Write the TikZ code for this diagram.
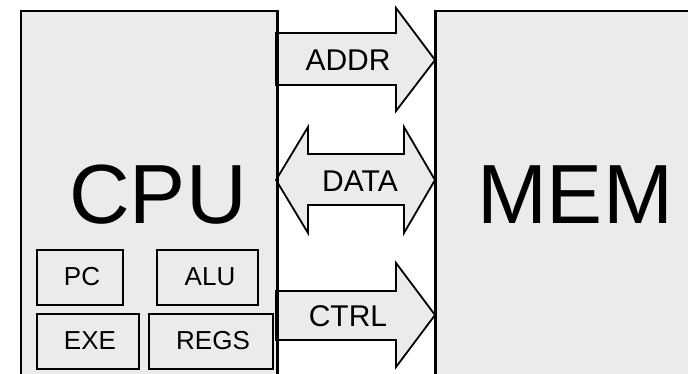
\documentclass[tikz,border=0pt]{standalone}
\usepackage{fontspec}
\setmainfont{Liberation Sans}
\definecolor{boxgray}{HTML}{EBEBEB}
\begin{document}
\begin{tikzpicture}[x=1pt,y=-1pt,
  box/.style={draw=black, line width=1.8pt, fill=boxgray, inner sep=0pt, anchor=north west},
  busarrow/.style={draw=black, line width=1.8pt, fill=boxgray, line join=miter},
  bigtxt/.style={inner sep=0pt, font=\fontsize{84}{84}\selectfont},
  bustxt/.style={inner sep=0pt, font=\fontsize{30}{30}\selectfont},
  regtxt/.style={inner sep=0pt, font=\fontsize{26}{26}\selectfont}]
\useasboundingbox (0,0) rectangle (688,374);
\clip (0,0) rectangle (688,374);
\fill[white] (0,0) rectangle (688,374);
% main blocks
\node[box, minimum width=256pt, minimum height=380pt] (cpu) at (20,10) {};
\node[box, minimum width=280pt, minimum height=380pt] (mem) at (435,10) {};
\node[bigtxt] (cputxt) at (158,195) {CPU};
\node[bigtxt] (memtxt) at (575,195) {MEM};
% CPU internals
\node[box, minimum width=86pt, minimum height=55pt] (pc) at (36,249) {};
\node[box, minimum width=101pt, minimum height=55pt] (alu) at (156,249) {};
\node[box, minimum width=102pt, minimum height=55pt] (exe) at (36,313) {};
\node[box, minimum width=124pt, minimum height=55pt] (regs) at (148,313) {};
\node[regtxt] (pctxt) at (82,277) {PC};
\node[regtxt] (alutxt) at (210,277) {ALU};
\node[regtxt] (exetxt) at (90,341) {EXE};
\node[regtxt] (regstxt) at (213,341) {REGS};
% bus arrows
\draw[busarrow] (276,33) -- (396,33) -- (396,8) -- (435,60) -- (396,111) -- (396,85) -- (276,85) -- cycle;
\draw[busarrow] (276,180) -- (308,127) -- (308,154) -- (404,154) -- (404,127) -- (435,180)
  -- (404,233) -- (404,205) -- (308,205) -- (308,233) -- cycle;
\draw[busarrow] (276,291) -- (396,291) -- (396,263) -- (435,315) -- (396,367) -- (396,340) -- (276,340) -- cycle;
\draw[line width=1.8pt] (cpu.north east) -- (cpu.south east);
\draw[line width=1.8pt] (mem.north west) -- (mem.south west);
\node[bustxt] (addr) at (348,60) {ADDR};
\node[bustxt] (data) at (360,181) {DATA};
\node[bustxt] (ctrl) at (348,316) {CTRL};
\end{tikzpicture}
\end{document}
